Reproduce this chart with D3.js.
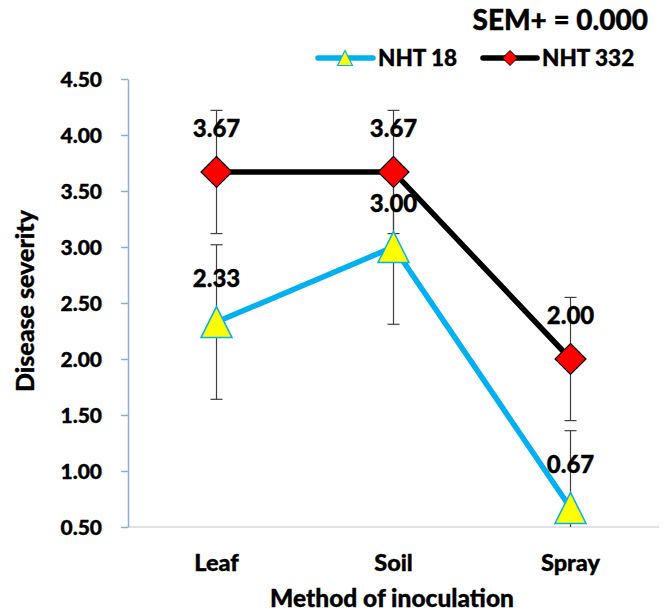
<!DOCTYPE html>
<html>
<head>
<meta charset="utf-8">
<script src="https://cdn.jsdelivr.net/npm/d3@7"></script>
<style>
html,body{margin:0;padding:0;background:#fff;}
text{font-family:Lato,"Open Sans",sans-serif;font-weight:900;fill:#000;stroke:#000;stroke-width:0.35px;}
</style>
</head>
<body>
<svg id="chart" width="667" height="614"></svg>
<script>
const categories = ["Leaf", "Soil", "Spray"];
const nht18 = [2.33, 3.00, 0.67];
const nht332 = [3.67, 3.67, 2.00];
const err18 = [0.69, 0.69, 0.69];
const err332 = [0.55, 0.55, 0.55];
const yTicks = [0.5, 1.0, 1.5, 2.0, 2.5, 3.0, 3.5, 4.0, 4.5];
const seriesNames = ["NHT 18", "NHT 332"];
const semText = "SEM+ = 0.000";

const svg = d3.select("#chart");
const x0 = 128, x1 = 659, yTop = 79, yBot = 527;
const x = d3.scalePoint().domain(categories).range([x0, x1]).padding(0.5);
const y = d3.scaleLinear().domain([0.5, 4.5]).range([yBot, yTop]);

// x axis line
svg.append("line").attr("x1", x0).attr("x2", x1).attr("y1", yBot).attr("y2", yBot)
  .attr("stroke", "#d9d9d9").attr("stroke-width", 1.5);

// y axis
const yAxis = d3.axisLeft(y).tickValues(yTicks).tickFormat(d3.format(".2f")).tickSize(7).tickSizeOuter(0);
const gy = svg.append("g").attr("transform", `translate(${x0},0)`).call(yAxis);
gy.select(".domain").attr("stroke", "#8faadc").attr("stroke-width", 1.5);
gy.selectAll(".tick line").attr("stroke", "#8faadc").attr("stroke-width", 1.5);
gy.selectAll(".tick text").attr("x", -26).style("font-size", "21px").attr("dy", "0.35em");

// category labels
svg.append("g").selectAll("text").data(categories).join("text")
  .attr("x", d => x(d)).attr("y", 563).attr("dy", "0.35em").attr("text-anchor", "middle")
  .style("font-size", "23.5px").text(d => d);

// axis titles
svg.append("text").attr("x", 392).attr("y", 598).attr("dy", "0.35em").attr("text-anchor", "middle")
  .style("font-size", "24.5px").text("Method of inoculation");
svg.append("text").attr("transform", "translate(25,301) rotate(-90)").attr("dy", "0.35em")
  .attr("text-anchor", "middle").style("font-size", "25px").text("Disease severity");

// error bars
function errBars(vals, errs) {
  const g = svg.append("g");
  vals.forEach((v, i) => {
    const cx = x(categories[i]);
    const lo = Math.max(0.5, v - errs[i]), hi = Math.min(4.5, v + errs[i]);
    g.append("line").attr("x1", cx).attr("x2", cx).attr("y1", y(lo)).attr("y2", y(hi))
      .attr("stroke", "#404040").attr("stroke-width", 1.2);
    [v - errs[i], v + errs[i]].forEach(e => {
      if (e >= 0.5 && e <= 4.5) {
        g.append("line").attr("x1", cx - 6).attr("x2", cx + 6).attr("y1", y(e)).attr("y2", y(e))
          .attr("stroke", "#404040").attr("stroke-width", 1.2);
      }
    });
  });
}
errBars(nht18, err18);
errBars(nht332, err332);

const line = d3.line().x((d, i) => x(categories[i])).y(d => y(d));
svg.append("path").datum(nht18).attr("d", line).attr("fill", "none")
  .attr("stroke", "#00b0f0").attr("stroke-width", 5.5);
svg.append("path").datum(nht332).attr("d", line).attr("fill", "none")
  .attr("stroke", "#000").attr("stroke-width", 5.5);

function triangle(cx, cy, w) {
  const h = w * 1.0;
  return `M${cx},${cy - h / 2} L${cx + w / 2},${cy + h / 2} L${cx - w / 2},${cy + h / 2} Z`;
}
function diamond(cx, cy, w) {
  const r = w / 2;
  return `M${cx},${cy - r} L${cx + r},${cy} L${cx},${cy + r} L${cx - r},${cy} Z`;
}

svg.append("g").selectAll("path").data(nht18).join("path")
  .attr("d", (d, i) => triangle(x(categories[i]), y(d), 31))
  .attr("fill", "#ffff00").attr("stroke", "#00b0f0").attr("stroke-width", 1.5);
svg.append("g").selectAll("path").data(nht332).join("path")
  .attr("d", (d, i) => diamond(x(categories[i]), y(d), 31))
  .attr("fill", "#ff0000").attr("stroke", "#000").attr("stroke-width", 1.2);

// data labels
function labels(vals) {
  svg.append("g").selectAll("text").data(vals).join("text")
    .attr("x", (d, i) => x(categories[i])).attr("y", d => y(d) - 43).attr("dy", "0.35em")
    .attr("text-anchor", "middle").style("font-size", "24px").text(d => d.toFixed(2));
}
labels(nht18);
labels(nht332);

// SEM text
svg.append("text").attr("x", 648).attr("y", 20).attr("dy", "0.35em").attr("text-anchor", "end")
  .style("font-size", "28px").text(semText);

// legend
const lg = svg.append("g");
lg.append("line").attr("x1", 318).attr("x2", 373).attr("y1", 58).attr("y2", 58)
  .attr("stroke", "#00b0f0").attr("stroke-width", 5.5).attr("stroke-linecap", "round");
lg.append("path").attr("d", triangle(345, 58, 15)).attr("fill", "#ffff00").attr("stroke", "#00b0f0").attr("stroke-width", 1.2);
lg.append("text").attr("x", 378).attr("y", 58).attr("dy", "0.35em").style("font-size", "22.5px").text(seriesNames[0]);
lg.append("line").attr("x1", 483).attr("x2", 537).attr("y1", 58).attr("y2", 58)
  .attr("stroke", "#000").attr("stroke-width", 5.5).attr("stroke-linecap", "round");
lg.append("path").attr("d", diamond(510, 58, 15)).attr("fill", "#ff0000").attr("stroke", "#000").attr("stroke-width", 1);
lg.append("text").attr("x", 542).attr("y", 58).attr("dy", "0.35em").style("font-size", "22.5px").text(seriesNames[1]);
</script>
</body>
</html>
